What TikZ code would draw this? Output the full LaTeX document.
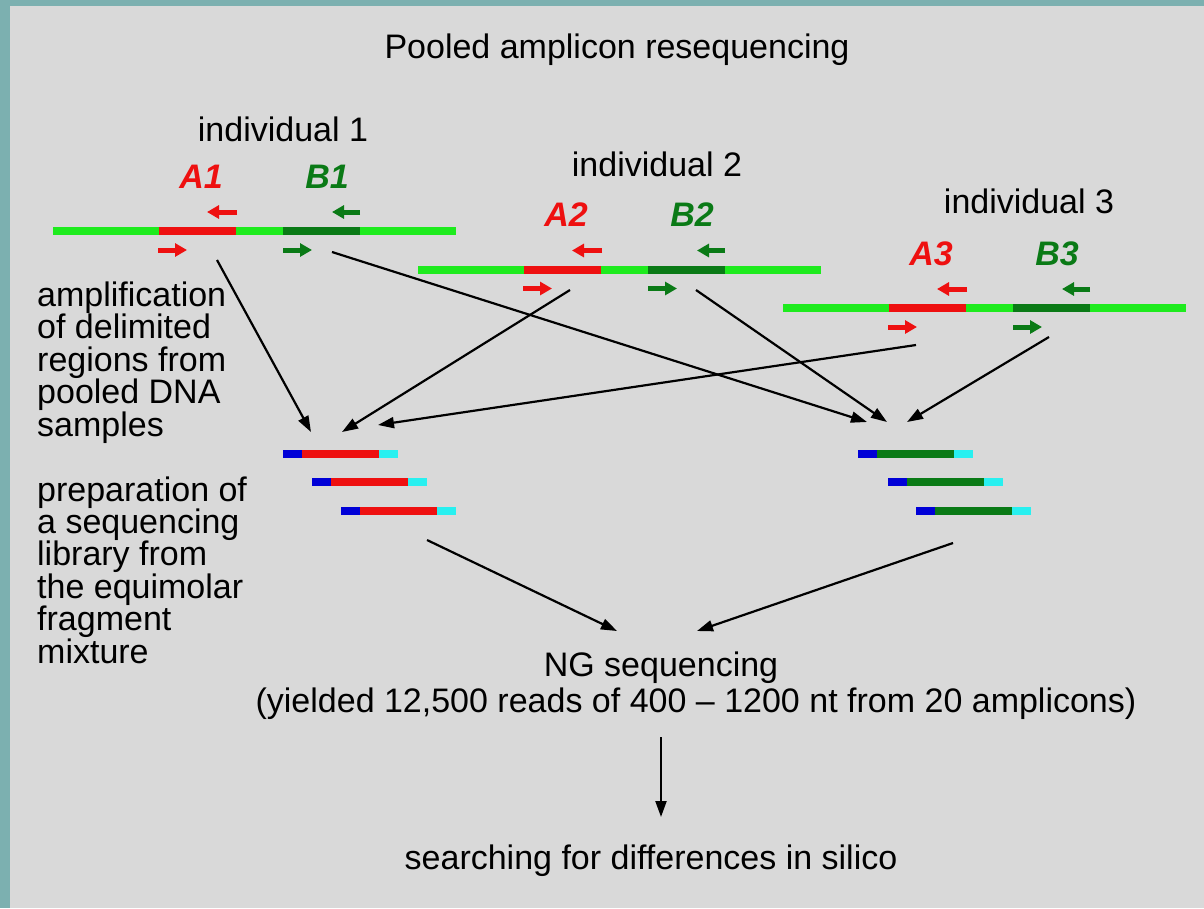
\documentclass[tikz,border=0pt]{standalone}
\usepackage{fontspec}
\setmainfont{Liberation Sans}
\usetikzlibrary{arrows.meta}

\definecolor{frame}{RGB}{124,176,176}
\definecolor{slide}{RGB}{217,217,217}
\definecolor{dnaline}{RGB}{30,235,30}
\definecolor{ampA}{RGB}{238,16,16}
\definecolor{ampB}{RGB}{10,122,22}
\definecolor{adaptL}{RGB}{0,0,215}
\definecolor{adaptR}{RGB}{40,240,240}

\tikzset{
  txt/.style={font=\fontsize{34}{32.4}\selectfont, inner sep=0pt, text=black},
  lbl/.style={font=\fontsize{34}{40}\selectfont\bfseries\itshape, inner sep=0pt},
  strand/.style={line width=8pt},
  primer/.style={line width=5pt, -{Triangle[length=12pt,width=13pt]}},
  flow/.style={line width=2.2pt, black, -{Triangle[length=16pt,width=11pt]}},
}

% one genomic stretch with the two amplicons A and B and their primers
\newcommand\drawindividual[3]{%
  \begin{scope}[shift={(#1,#2)}]
    \draw[strand,dnaline] (53,231) -- (456,231);
    \draw[strand,ampA] (159,231) -- (236,231);
    \draw[strand,ampB] (283,231) -- (360,231);
    \draw[primer,ampA] (237,212) -- (207,212);
    \draw[primer,ampB] (360,212) -- (332,212);
    \draw[primer,ampA] (158,250) -- (187,250);
    \draw[primer,ampB] (283,250) -- (312,250);
    \node[lbl,text=ampA,anchor=base] (A#3) at (201,188) {A#3};
    \node[lbl,text=ampB,anchor=base] (B#3) at (327,188) {B#3};
  \end{scope}}

% library fragment: adapter, insert, adapter
\newcommand\drawfragment[3]{%
  \draw[strand,adaptL] (#1,#2) -- ++(19,0);
  \draw[strand,#3] (#1+19,#2) -- ++(77,0);
  \draw[strand,adaptR] (#1+96,#2) -- ++(19,0);}

\begin{document}
\begin{tikzpicture}[x=1pt,y=-1pt]
\useasboundingbox (0,0) rectangle (1204,908);
\fill[frame] (0,0) rectangle (1204,908);
\fill[slide] (10,6) rectangle (1204,908);

\node[txt,anchor=base] (title) at (617,58) {Pooled amplicon resequencing};

\node[txt,anchor=base] (ind1) at (283,141) {individual 1};
\node[txt,anchor=base] (ind2) at (657,176) {individual 2};
\node[txt,anchor=base] (ind3) at (1029,213) {individual 3};

\drawindividual{0}{0}{1}
\drawindividual{365}{38.5}{2}
\drawindividual{730}{77}{3}

% the base anchor of a multi-line node sits on its last line
\node[txt,anchor=base west,align=left] (stepamp) at (37,436)
  {amplification\\of delimited\\regions from\\pooled DNA\\samples};
\node[txt,anchor=base west,align=left] (steplib) at (37,663)
  {preparation of\\a sequencing\\library from\\the equimolar\\fragment\\mixture};

% pooled PCR products
\drawfragment{283}{454}{ampA}
\drawfragment{312}{482}{ampA}
\drawfragment{341}{511}{ampA}
\drawfragment{858}{454}{ampB}
\drawfragment{888}{482}{ampB}
\drawfragment{916}{511}{ampB}

\node[txt,anchor=base] (ng) at (661,676) {NG sequencing};
\node[txt,anchor=base] (ngyield) at (696,712)
  {(yielded 12,500 reads of 400 -- 1200 nt from 20 amplicons)};
\node[txt,anchor=base] (search) at (651,869) {searching for differences in silico};

% connector ends
\coordinate (outA1) at (217,260);
\coordinate (outB1) at (332,252);
\coordinate (outA2) at (570,290);
\coordinate (outB2) at (696,290);
\coordinate (outA3) at (916,345);
\coordinate (outB3) at (1049,337);
\coordinate (poolA1) at (311,432);
\coordinate (poolA2) at (342,432);
\coordinate (poolA3) at (378,425);
\coordinate (poolB1) at (867,422);
\coordinate (poolB2) at (887,422);
\coordinate (poolB3) at (907,422);
\coordinate (libA) at (427,540);
\coordinate (libB) at (953,543);
\coordinate (ngA) at (617,631);
\coordinate (ngB) at (697,631);
\coordinate (ngout) at (661,737);
\coordinate (searchin) at (661,817);

\draw[flow] (outA1) -- (poolA1);
\draw[flow] (outB1) -- (poolB1);
\draw[flow] (outA2) -- (poolA2);
\draw[flow] (outB2) -- (poolB2);
\draw[flow] (outA3) -- (poolA3);
\draw[flow] (outB3) -- (poolB3);
\draw[flow] (libA) -- (ngA);
\draw[flow] (libB) -- (ngB);
\draw[flow] (ngout) -- (searchin);
\end{tikzpicture}
\end{document}
